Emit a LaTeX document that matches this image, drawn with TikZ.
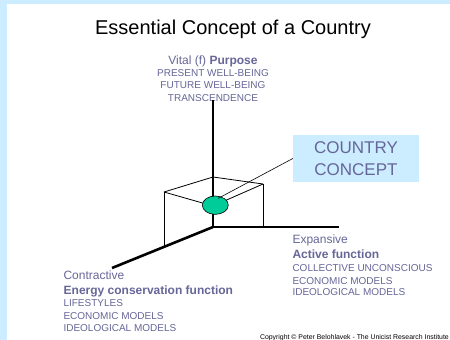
\documentclass[tikz,border=0pt]{standalone}
\usepackage{fontspec}
\setmainfont{Liberation Sans}
\usetikzlibrary{shapes.geometric}
\definecolor{bgblue}{RGB}{204,236,255}
\definecolor{labelc}{RGB}{102,102,153}
\definecolor{tealc}{RGB}{0,204,153}
\begin{document}
\begin{tikzpicture}[x=1pt,y=-1pt,
  lbl/.style={text=labelc,inner sep=0pt,anchor=base west},
  clbl/.style={text=labelc,inner sep=0pt,anchor=base},
  big/.style={font=\fontsize{12}{14}\selectfont},
  small/.style={font=\fontsize{10}{12}\selectfont},
  axisline/.style={line width=2.6pt},
  boxline/.style={line width=0.8pt},
  callout/.style={line width=0.6pt}]
\useasboundingbox (0,0) rectangle (450,340);
\fill[bgblue] (0,0) rectangle (450,340);
\fill[white] (7,4) rectangle (450,340);

% title
\node[inner sep=0pt,anchor=base] (title) at (233,34.3) {\fontsize{20}{24}\selectfont Essential Concept of a Country};

% vital block
\node[clbl,big] (v1) at (213,64) {Vital (f) \textbf{Purpose}};
\node[clbl,small] (v2) at (213,76.7) {PRESENT WELL-BEING};
\node[clbl,small] (v3) at (213,88.7) {FUTURE WELL-BEING};
\node[clbl,small] (v4) at (213,101) {TRANSCENDENCE};

% geometry
\coordinate (O) at (213,227);
\coordinate (Ztop) at (213,100);
\coordinate (Xend) at (339,227);
\coordinate (Yend) at (112,268);
\coordinate (B) at (213,177);
\coordinate (L) at (164,192);
\coordinate (R) at (263,184);
\coordinate (F) at (213,206);
\coordinate (Lb) at (164,247);
\coordinate (Rb) at (263,227);

\draw[boxline] (L) -- (B) -- (R);
\draw[boxline] (L) -- (F) -- (R);
\draw[boxline] (L) -- (Lb);
\draw[boxline] (R) -- (Rb);

\draw[axisline] (Ztop) -- (O);
\draw[axisline] (O) -- (Xend);
\draw[axisline] (O) -- (Yend);

% ellipse
\node[draw=black,line width=0.6pt,fill=tealc,ellipse,minimum width=26pt,minimum height=18.4pt,inner sep=0pt] (ell) at (215.3,205.2) {};
\coordinate (tip) at (218.3,198.3);

% country concept box
\node[fill=bgblue,minimum width=126pt,minimum height=47pt,inner sep=0pt,text=labelc,align=center,
  font=\fontsize{17}{21.7}\selectfont] (cc) at (356,158.5) {COUNTRY\\CONCEPT};
\draw[callout] (cc.west) -- (tip);

% expansive block
\node[lbl,big] (e1) at (292.3,243.3) {Expansive};
\node[lbl,big] (e2) at (292.3,258.6) {\textbf{Active function}};
\node[lbl,small] (e3) at (292.3,271) {COLLECTIVE UNCONSCIOUS};
\node[lbl,small] (e4) at (292.3,284) {ECONOMIC MODELS};
\node[lbl,small] (e5) at (292.3,295.7) {IDEOLOGICAL MODELS};

% contractive block
\node[lbl,big] (c1) at (63.3,279) {Contractive};
\node[lbl,big] (c2) at (63.5,294) {\textbf{Energy conservation function}};
\node[lbl,small] (c3) at (63.3,306) {LIFESTYLES};
\node[lbl,small] (c4) at (63.3,319.7) {ECONOMIC MODELS};
\node[lbl,small] (c5) at (63.3,331) {IDEOLOGICAL MODELS};

% copyright
\node[inner sep=0pt,anchor=base east,font=\fontsize{6.9}{8}\selectfont] (copy) at (449,339.3) {Copyright © Peter Belohlavek - The Unicist Research Institute};
\end{tikzpicture}
\end{document}
